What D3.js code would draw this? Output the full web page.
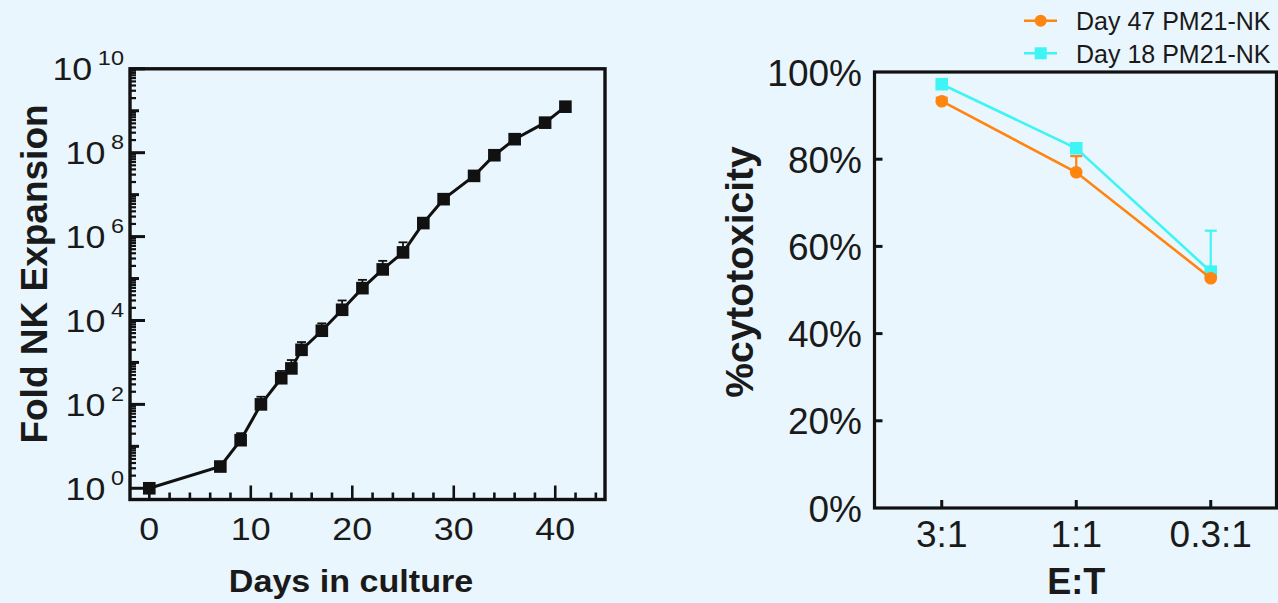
<!DOCTYPE html>
<html>
<head>
<meta charset="utf-8">
<script src="https://cdn.jsdelivr.net/npm/d3@7"></script>
<style>
  html, body { margin: 0; padding: 0; background: #eaf6fd; }
  svg { display: block; }
  text { font-family: "Liberation Sans", Arial, Helvetica, sans-serif; fill: #1a1a1a; }
</style>
</head>
<body>
<svg id="fig" width="1278" height="603"></svg>
<script>
// ---- Fold expansion over time (left panel) ----
const days = [0, 7, 9, 11, 13, 14, 15, 17, 19, 21, 23, 25, 27, 29, 32, 34, 36, 39, 41];
const foldExpansion = [1, 3.3, 14, 100, 420, 720, 2000, 5700, 18000, 59000, 165000, 420000,
  2100000, 7800000, 28000000, 87000000, 210000000, 520000000, 1250000000];
const foldSD = [0.05, 0.4, 6.6, 52, 206, 420, 1060, 2850, 12000, 34000, 99000, 310000,
  670000, 800000, 3000000, 9000000, 30000000, 20000000, 40000000];
const dayTicks = [0, 10, 20, 30, 40];
const foldTickExponents = [0, 2, 4, 6, 8, 10];

// ---- Cytotoxicity by effector:target ratio (right panel) ----
const ratios = ["3:1", "1:1", "0.3:1"];
const day47Cyto = [93.3, 77.0, 52.7];
const day47SD = [0.8, 3.7, 0.5];
const day18Cyto = [97.2, 82.5, 54.2];
const day18SD = [0.5, 0.6, 9.4];
const pctTicks = [0, 20, 40, 60, 80, 100];
const seriesNames = ["Day 47 PM21-NK", "Day 18 PM21-NK"];

const ORANGE = "#ff8410";
const CYAN = "#3ff4f4";
const INK = "#111";

const svg = d3.select("#fig");
svg.append("rect").attr("width", 1278).attr("height", 603).attr("fill", "#eaf6fd");

/* ================= Left panel ================= */
const L = { left: 130, right: 605, top: 68.8, bottom: 499.5 };
const x1 = d3.scaleLinear().domain([-2, 45]).range([L.left - 1, L.right + 1]);
const y1 = d3.scaleLog().domain([0.54, 1e10]).range([L.bottom, L.top]);

const gL = svg.append("g");

// inward ticks on the log axis: long at even decades, medium at odd, short for 2..9
const logTicks = [];
for (let e = 0; e < 10; e++) {
  for (let k = 1; k <= 9; k++) {
    const v = k * Math.pow(10, e);
    logTicks.push({ v, len: k === 1 ? (e % 2 === 0 ? 15 : 9) : 6 });
  }
}
logTicks.push({ v: 1e10, len: 15 });
gL.append("g").selectAll("line").data(logTicks).join("line")
  .attr("x1", L.left).attr("x2", d => L.left + d.len)
  .attr("y1", d => y1(d.v)).attr("y2", d => y1(d.v))
  .attr("stroke", INK).attr("stroke-width", d => d.len > 6 ? 3 : 2.2);

// inward ticks on the day axis
const dayMinor = d3.range(2, 45, 2);
gL.append("g").selectAll("line").data(dayMinor).join("line")
  .attr("x1", d => x1(d)).attr("x2", d => x1(d))
  .attr("y1", L.bottom).attr("y2", d => L.bottom - (d % 10 === 0 ? 14 : 7))
  .attr("stroke", INK).attr("stroke-width", 2.6);
gL.append("line").attr("x1", x1(0)).attr("x2", x1(0))
  .attr("y1", L.bottom).attr("y2", L.bottom - 14).attr("stroke", INK).attr("stroke-width", 2.6);

// frame
gL.append("rect").attr("x", L.left).attr("y", L.top)
  .attr("width", L.right - L.left).attr("height", L.bottom - L.top)
  .attr("fill", "none").attr("stroke", INK).attr("stroke-width", 3.4);

// y tick labels 10^n
const yLab = gL.append("g").selectAll("text").data(foldTickExponents).join("text")
  .attr("text-anchor", "end")
  .attr("transform", d => `translate(124,${y1(Math.pow(10, d)) + 11.5}) scale(1.12,1)`)
  .style("font-size", "32px");
yLab.append("tspan").text("10");
yLab.append("tspan").attr("dx", 5).attr("dy", -15).style("font-size", "21px").text(d => d);

// x tick labels
gL.append("g").selectAll("text").data(dayTicks).join("text")
  .attr("text-anchor", "middle")
  .attr("transform", d => `translate(${x1(d)},540) scale(1.12,1)`)
  .style("font-size", "32px").text(d => d);

// axis titles
gL.append("text").attr("text-anchor", "middle")
  .attr("transform", "translate(351,592) scale(1.1,1)")
  .style("font-size", "31px").style("font-weight", "bold").text("Days in culture");
gL.append("text").attr("text-anchor", "middle")
  .attr("transform", "translate(47,274) rotate(-90)")
  .style("font-size", "37px").style("font-weight", "bold").text("Fold NK Expansion");

// error bars (upper arm with cap)
const foldRows = days.map((d, i) => ({ d, v: foldExpansion[i], sd: foldSD[i] }));
const eb = gL.append("g").attr("stroke", INK).attr("stroke-width", 1.8);
eb.selectAll("line.v").data(foldRows).join("line").attr("class", "v")
  .attr("x1", r => x1(r.d)).attr("x2", r => x1(r.d))
  .attr("y1", r => y1(r.v)).attr("y2", r => y1(r.v + r.sd));
eb.selectAll("line.c").data(foldRows).join("line").attr("class", "c")
  .attr("x1", r => x1(r.d) - 4.5).attr("x2", r => x1(r.d) + 4.5)
  .attr("y1", r => y1(r.v + r.sd)).attr("y2", r => y1(r.v + r.sd));

// line + square markers
gL.append("path").datum(foldRows)
  .attr("d", d3.line().x(r => x1(r.d)).y(r => y1(r.v)))
  .attr("fill", "none").attr("stroke", INK).attr("stroke-width", 3);
gL.append("g").selectAll("rect").data(foldRows).join("rect")
  .attr("x", r => x1(r.d) - 6.3).attr("y", r => y1(r.v) - 6.3)
  .attr("width", 12.6).attr("height", 12.6).attr("fill", INK);

/* ================= Right panel ================= */
const R = { left: 874.5, right: 1276.5, top: 72, bottom: 508 };
const x2 = d3.scalePoint().domain(ratios).range([R.left, R.right + 1.5]).padding(0.5);
const y2 = d3.scaleLinear().domain([0, 100]).range([R.bottom, R.top]);

const gR = svg.append("g");

// inward ticks
gR.append("g").selectAll("line").data(pctTicks.slice(1, -1)).join("line")
  .attr("x1", R.left).attr("x2", R.left + 8)
  .attr("y1", d => y2(d)).attr("y2", d => y2(d))
  .attr("stroke", INK).attr("stroke-width", 3);
gR.append("g").selectAll("line").data(ratios).join("line")
  .attr("x1", d => x2(d)).attr("x2", d => x2(d))
  .attr("y1", R.bottom).attr("y2", R.bottom - 8)
  .attr("stroke", INK).attr("stroke-width", 3);

gR.append("rect").attr("x", R.left).attr("y", R.top)
  .attr("width", R.right - R.left).attr("height", R.bottom - R.top)
  .attr("fill", "none").attr("stroke", INK).attr("stroke-width", 3.2);

gR.append("g").selectAll("text").data(pctTicks).join("text")
  .attr("text-anchor", "end")
  .attr("x", 862).attr("y", d => y2(d) + 13.5)
  .style("font-size", "37px").text(d => d + "%");
gR.append("g").selectAll("text").data(ratios).join("text")
  .attr("text-anchor", "middle")
  .attr("x", d => x2(d)).attr("y", 547)
  .style("font-size", "37px").text(d => d);

gR.append("text").attr("text-anchor", "middle")
  .attr("x", x2("1:1")).attr("y", 594)
  .style("font-size", "36px").style("font-weight", "bold").text("E:T");
gR.append("text").attr("text-anchor", "middle")
  .attr("transform", "translate(753,272) rotate(-90)")
  .style("font-size", "39px").style("font-weight", "bold").text("%cytotoxicity");

function drawSeries(vals, sds, color, shape) {
  const rows = ratios.map((r, i) => ({ r, v: vals[i], sd: sds[i] }));
  const g = gR.append("g");
  g.selectAll("line.v").data(rows).join("line").attr("class", "v")
    .attr("x1", d => x2(d.r)).attr("x2", d => x2(d.r))
    .attr("y1", d => y2(d.v)).attr("y2", d => y2(d.v + d.sd))
    .attr("stroke", color).attr("stroke-width", 2.2);
  g.selectAll("line.c").data(rows).join("line").attr("class", "c")
    .attr("x1", d => x2(d.r) - 6).attr("x2", d => x2(d.r) + 6)
    .attr("y1", d => y2(d.v + d.sd)).attr("y2", d => y2(d.v + d.sd))
    .attr("stroke", color).attr("stroke-width", 2.2);
  g.append("path").datum(rows)
    .attr("d", d3.line().x(d => x2(d.r)).y(d => y2(d.v)))
    .attr("fill", "none").attr("stroke", color).attr("stroke-width", 2.6);
  if (shape === "circle") {
    g.selectAll("circle").data(rows).join("circle")
      .attr("cx", d => x2(d.r)).attr("cy", d => y2(d.v)).attr("r", 6.3).attr("fill", color);
  } else {
    g.selectAll("rect").data(rows).join("rect")
      .attr("x", d => x2(d.r) - 6.3).attr("y", d => y2(d.v) - 6.3)
      .attr("width", 12.6).attr("height", 12.6).attr("fill", color);
  }
}
drawSeries(day18Cyto, day18SD, CYAN, "square");
drawSeries(day47Cyto, day47SD, ORANGE, "circle");

// legend
const legend = svg.append("g");
const legendRows = [
  { name: seriesNames[0], color: ORANGE, shape: "circle", y: 20.7 },
  { name: seriesNames[1], color: CYAN, shape: "square", y: 53.3 }
];
legendRows.forEach(d => {
  legend.append("line").attr("x1", 1024).attr("x2", 1057)
    .attr("y1", d.y).attr("y2", d.y).attr("stroke", d.color).attr("stroke-width", 2.6);
  if (d.shape === "circle") {
    legend.append("circle").attr("cx", 1040.7).attr("cy", d.y).attr("r", 6).attr("fill", d.color);
  } else {
    legend.append("rect").attr("x", 1034.7).attr("y", d.y - 6).attr("width", 12).attr("height", 12).attr("fill", d.color);
  }
  legend.append("text").attr("x", 1076).attr("y", d.y + 9.3)
    .style("font-size", "25px").text(d.name);
});
</script>
</body>
</html>
